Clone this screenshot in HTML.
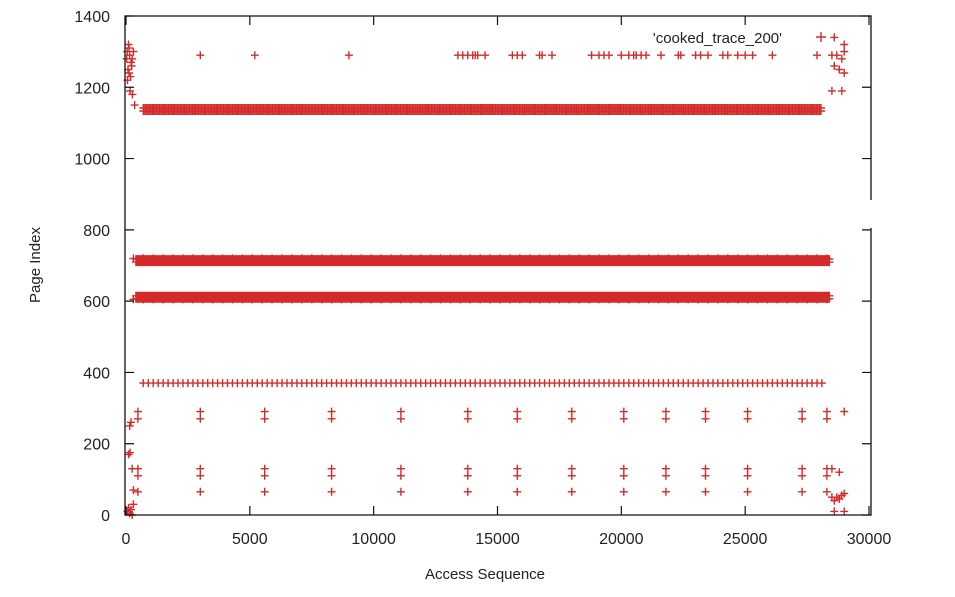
<!DOCTYPE html>
<html><head><meta charset="utf-8"><style>
body{margin:0;background:#fff;}
svg text{font-family:"Liberation Sans",sans-serif;fill:#222;}
</style></head><body>
<svg id="chart" width="955" height="592" viewBox="0 0 955 592">
<g id="marks"></g>
<g id="axes"></g>
</svg>
<script>
// dense bands: [xStart, xEnd, y, stepInX]
const bandSegments=[[700,28100,1142,60],[400,28400,718,50],[400,28400,615,50],[700,28200,370,200],[300,28400,605,400],[300,28400,720,400]];
// isolated points x at y=1290
const topX=[3000,5200,9000,13400,13600,13800,14000,14100,14200,14500,15600,15800,16000,16700,16800,17200,18800,19100,19300,19500,20000,20300,20500,20600,20800,21000,21600,22300,22400,23000,23200,23500,24100,24300,24700,25000,25300,26100,27900];
// periodic cluster columns and their y values
const clusterX=[480,3000,5600,8300,11100,13800,15800,18000,20100,21800,23400,25100,27300,28300];
const clusterY=[290,270,130,110,65];
// left/right edge clusters [x,y]
const edgePts=[[50,1300],[100,1320],[150,1290],[200,1270],[250,1280],[80,1250],[120,1240],[180,1230],[230,1260],[300,1300],[60,1220],[160,1190],[260,1180],[350,1150],[30,1280],[120,1310],[60,10],[100,20],[150,5],[200,15],[250,0],[300,30],[100,170],[160,175],[150,250],[200,260],[250,130],[300,70],
[28500,1290],[28700,1290],[28900,1280],[29000,1300],[28600,1260],[28800,1250],[29000,1240],[28500,1190],[28900,1190],[28600,1340],[29000,1320],[28500,50],[28700,50],[28900,55],[28600,40],[28800,45],[29000,60],[28500,130],[28800,120],[29000,290],[28600,10],[29000,10]];
const xTicks=[0,5000,10000,15000,20000,25000,30000];
const yTicks=[0,200,400,600,800,1000,1200,1400];
const X0=126,X1=869,Y0=515,Y1=16;
const sx=v=>X0+(v/30000)*(X1-X0);
const sy=v=>Y0-(v/1400)*(Y0-Y1);
const NS="http://www.w3.org/2000/svg";
let d="";
function plus(px,py){d+=`M${(px-4).toFixed(1)} ${py.toFixed(1)}h8M${px.toFixed(1)} ${(py-4).toFixed(1)}v8`;}
bandSegments.forEach(s=>{for(let x=s[0];x<=s[1];x+=s[3])plus(sx(x),sy(s[2]));});
bandSegments.slice(0,3).forEach(s=>{for(let x=s[0];x<=s[1];x+=s[3])plus(sx(x),sy(s[2])+3);});
topX.forEach(x=>plus(sx(x),sy(1290)));
clusterX.forEach(x=>clusterY.forEach(y=>plus(sx(x),sy(y))));
edgePts.forEach(p=>plus(sx(p[0]),sy(p[1])));
const m=document.getElementById('marks');
const path=document.createElementNS(NS,'path');


path.setAttribute('d',d);path.setAttribute('stroke','#d42a2a');path.setAttribute('stroke-width','1.4');path.setAttribute('fill','none');
m.appendChild(path);
const ax=document.getElementById('axes');
let a=`<path d="M871 200V16H125V515H871V228" fill="none" stroke="#111" stroke-width="1.3"/>`;
xTicks.forEach(t=>{const x=sx(t);a+=`<path d="M${x} 515v-9M${x} 16v9" stroke="#111" stroke-width="1.2"/><text x="${x}" y="544" font-size="16" text-anchor="middle">${t}</text>`;});
yTicks.forEach(t=>{const y=sy(t);a+=`<path d="M125 ${y}h9M871 ${y}h-9" stroke="#111" stroke-width="1.2"/><text x="110" y="${y+6}" font-size="16" text-anchor="end">${t}</text>`;});
a+=`<text x="485" y="579" font-size="15" text-anchor="middle">Access Sequence</text>`;
a+=`<text transform="translate(40,265) rotate(-90)" font-size="15" text-anchor="middle">Page Index</text>`;
a+=`<text x="782" y="43" font-size="15" text-anchor="end">'cooked_trace_200'</text>`;
a+=`<path d="M816 37h10M821 32v10" stroke="#d42a2a" stroke-width="1.4"/>`;
ax.innerHTML=a;
</script>
</body></html>
